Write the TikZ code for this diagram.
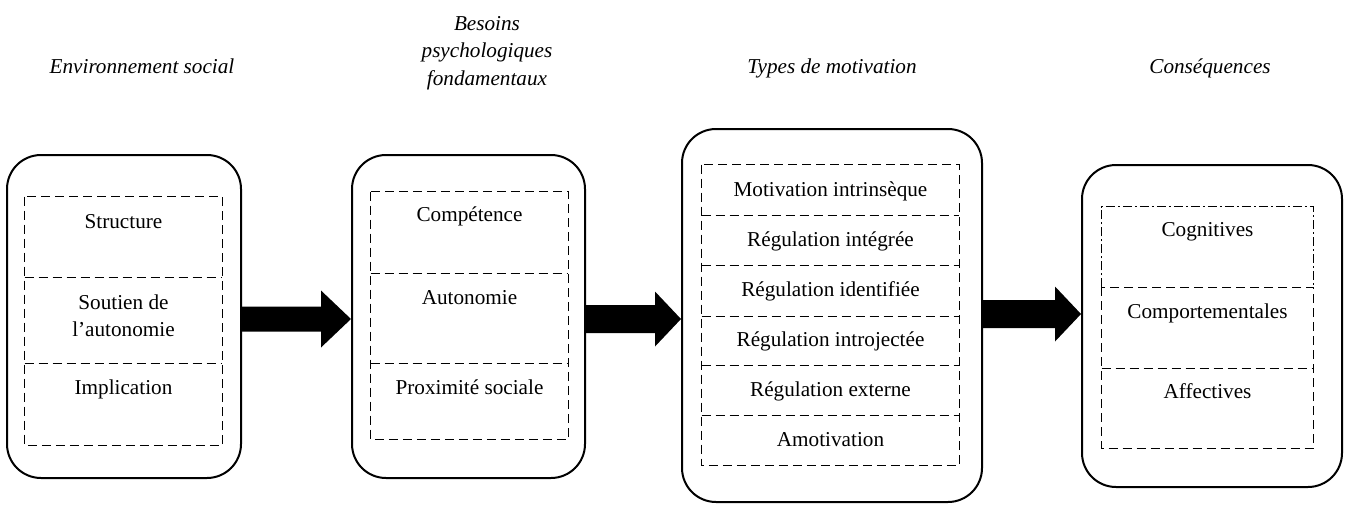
\documentclass[tikz,border=0pt]{standalone}
\usepackage{fontspec}
\setmainfont{Liberation Serif}
\usetikzlibrary{fit,calc}
\newcommand\blkarrow[6]{%
  \fill (#1.east |- 0,#3-#4) -- ([xshift=-#6*0.5pt]#2.west |- 0,#3-#4)
     -- ([xshift=-#6*0.5pt]#2.west |- 0,#3-#5) -- (#2.west |- 0,#3)
     -- ([xshift=-#6*0.5pt]#2.west |- 0,#3+#5) -- ([xshift=-#6*0.5pt]#2.west |- 0,#3+#4)
     -- (#1.east |- 0,#3+#4) -- cycle;}
\begin{document}
\begin{tikzpicture}[x=0.5pt,y=-0.5pt,
  font=\fontsize{10.6}{13.5}\selectfont,
  outerbox/.style={draw, line width=1pt, rounded corners=17pt, inner sep=0pt},
  dsh/.style={line width=0.8pt, dash pattern=on 4.5pt off 2.5pt},
  cell/.style={inner sep=0pt},
  dd/.style={line width=0.8pt, dash pattern=on 4.5pt off 1.5pt on 1pt off 1.5pt},
  lbl/.style={inner sep=0pt, align=center},
  ttl/.style={inner sep=0pt, align=center, font=\fontsize{10.6}{13.75}\selectfont\itshape}]
\useasboundingbox (0,0) rectangle (1348,504);

% titles
\node[ttl, anchor=base] (h1) at (142,73) {Environnement social};
\node[ttl] (h2) at (487,53) {Besoins\\psychologiques\\fondamentaux};
\node[ttl, anchor=base] (h3) at (832,73) {Types de motivation};
\node[ttl, anchor=base] (h4) at (1210,73) {Conséquences};

% box 1
\node[outerbox, fit={(7,155) (241,478)}] (b1) {};
\node[cell, fit={(25,197) (222,277)}] (b1c1) {};
\node[cell, fit={(25,277) (222,363)}] (b1c2) {};
\node[cell, fit={(25,363) (222,445)}] (b1c3) {};
\draw[dsh] (b1c1.north west) rectangle (b1c3.south east);
\draw[dsh] (b1c1.south west) -- (b1c1.south east);
\draw[dsh] (b1c2.south west) -- (b1c2.south east);
\node[lbl, anchor=base] (t11) at (123.5,228) {Structure};
\node[lbl] (t12) at (123.5,316) {Soutien de\\l’autonomie};
\node[lbl, anchor=base] (t13) at (123.5,394) {Implication};

% box 2
\node[outerbox, fit={(352,155) (585,478)}] (b2) {};
\node[cell, fit={(371,192) (568,273)}] (b2c1) {};
\node[cell, fit={(371,273) (568,363)}] (b2c2) {};
\node[cell, fit={(371,363) (568,439)}] (b2c3) {};
\draw[dsh] (b2c1.north west) rectangle (b2c3.south east);
\draw[dsh] (b2c1.south west) -- (b2c1.south east);
\draw[dsh] (b2c2.south west) -- (b2c2.south east);
\node[lbl, anchor=base] (t21) at (469.5,221) {Compétence};
\node[lbl, anchor=base] (t22) at (469.5,304) {Autonomie};
\node[lbl, anchor=base] (t23) at (469.5,394) {Proximité sociale};

% box 3
\node[outerbox, fit={(682,129) (982,502)}] (b3) {};
\node[cell, fit={(702,165) (959,215)}] (b3c1) {};
\node[cell, fit={(702,215) (959,265)}] (b3c2) {};
\node[cell, fit={(702,265) (959,316)}] (b3c3) {};
\node[cell, fit={(702,316) (959,365)}] (b3c4) {};
\node[cell, fit={(702,365) (959,415)}] (b3c5) {};
\node[cell, fit={(702,415) (959,465)}] (b3c6) {};
\draw[dsh] (b3c1.north west) rectangle (b3c6.south east);
\foreach \c in {b3c1,b3c2,b3c3,b3c4,b3c5}
  \draw[dsh] (\c.south west) -- (\c.south east);
\node[lbl, anchor=base] (t31) at (830.5,196) {Motivation intrinsèque};
\node[lbl, anchor=base] (t32) at (830.5,246) {Régulation intégrée};
\node[lbl, anchor=base] (t33) at (830.5,296) {Régulation identifiée};
\node[lbl, anchor=base] (t34) at (830.5,346) {Régulation introjectée};
\node[lbl, anchor=base] (t35) at (830.5,396) {Régulation externe};
\node[lbl, anchor=base] (t36) at (830.5,446) {Amotivation};

% box 4
\node[outerbox, fit={(1082,165) (1342,487)}] (b4) {};
\node[cell, fit={(1102,207) (1313,287)}] (b4c1) {};
\node[cell, fit={(1102,287) (1313,368)}] (b4c2) {};
\node[cell, fit={(1102,368) (1313,448)}] (b4c3) {};
\draw[dd] (b4c1.south west) -- (b4c1.north west) -- (b4c1.north east) -- (b4c1.south east);
\draw[dsh] (b4c1.south west) -- (b4c3.south west) -- (b4c3.south east) -- (b4c1.south east) -- cycle;
\draw[dsh] (b4c2.south west) -- (b4c2.south east);
\node[lbl, anchor=base] (t41) at (1207.5,236) {Cognitives};
\node[lbl, anchor=base] (t42) at (1207.5,318) {Comportementales};
\node[lbl, anchor=base] (t43) at (1207.5,398) {Affectives};

% block arrows
\blkarrow{b1}{b2}{319}{12.5}{28.5}{30}
\blkarrow{b2}{b3}{319}{14}{27.5}{26}
\blkarrow{b3}{b4}{314}{14}{27.5}{26}
\end{tikzpicture}
\end{document}
